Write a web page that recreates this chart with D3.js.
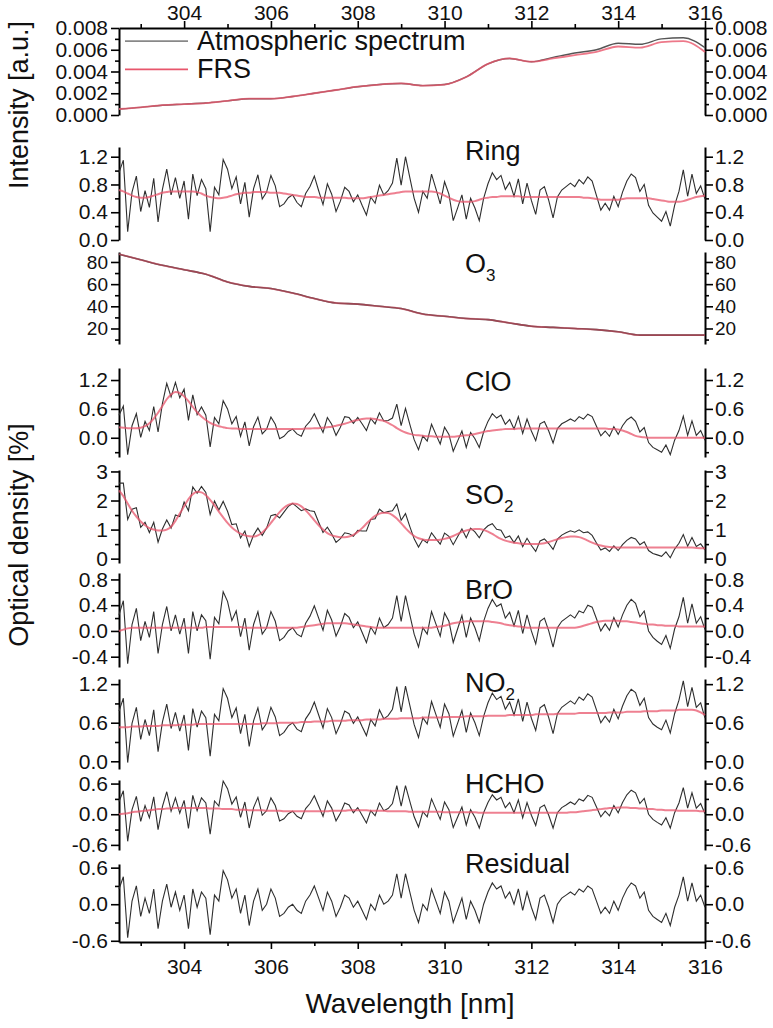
<!DOCTYPE html>
<html>
<head>
<meta charset="utf-8">
<script src="https://cdn.jsdelivr.net/npm/d3@7"></script>
<style>
  body { margin: 0; background: #fff; }
  svg text { font-family: "Liberation Sans", Arial, sans-serif; fill: #111; }
</style>
</head>
<body>
<svg id="chart" width="773" height="1028"></svg>
<script>
// wavelength axis
const xTicks = [304, 306, 308, 310, 312, 314, 316];
const xMinor = [303, 305, 307, 309, 311, 313, 315];
// 0.5 nm knots for the smooth curves
const knotNm = [302.5, 303, 303.5, 304, 304.5, 305, 305.5, 306, 306.5, 307, 307.5, 308, 308.5, 309,
                309.5, 310, 310.5, 311, 311.5, 312, 312.5, 313, 313.5, 314, 314.5, 315, 315.5, 316];
// detector grid, 0.1 nm
const gridNm = d3.range(136).map(i => Math.round((302.5 + i * 0.1) * 10) / 10);

// intensity panel
const atmSpectrum = [0.00055, 0.0007, 0.0009, 0.001, 0.0011, 0.0013, 0.0015, 0.0015, 0.0017, 0.002, 0.0023, 0.0026, 0.0028, 0.0029,
                     0.0027, 0.0028, 0.0035, 0.0047, 0.0052, 0.0049, 0.0053, 0.0057, 0.006, 0.0066, 0.0065, 0.007, 0.0071, 0.0062];
const frsSpectrum = [0.00055, 0.0007, 0.0009, 0.001, 0.0011, 0.0013, 0.0015, 0.0015, 0.0017, 0.002, 0.0023, 0.0026, 0.0028, 0.0029,
                     0.0027, 0.0028, 0.0035, 0.0047, 0.0052, 0.0049, 0.0052, 0.0055, 0.0058, 0.0063, 0.0062, 0.0067, 0.0068, 0.0058];
const o3Fit = [87, 82, 77, 73, 69, 62, 58, 56, 52, 47, 43, 42, 40, 38, 33, 31, 29, 28, 25, 22, 21, 20, 19, 17, 14, 14, 14, 14];

// fit residual (optical density %), on gridNm
const residual = [
  0.25, 0.45, -0.55, 0.05, 0.30, -0.20, 0.10, -0.15, 0.25, -0.40,
  0.05, 0.33, -0.05, 0.20, -0.10, 0.15, -0.40, 0.25, -0.05, 0.20,
  0.10, -0.50, 0.15, 0.05, 0.55, 0.40, 0.10, 0.25, -0.15, 0.15,
  -0.35, 0.05, 0.25, -0.10, 0.00, 0.25, 0.10, -0.20, -0.15, -0.05,
  0.00, -0.10, -0.15, 0.05, 0.15, 0.30, 0.10, -0.10, 0.20, 0.05,
  -0.20, -0.05, 0.15, 0.10, -0.05, 0.05, -0.10, -0.25, 0.00, -0.10,
  0.15, 0.00, 0.05, 0.15, 0.50, 0.10, 0.50, 0.20, -0.10, -0.30,
  0.00, -0.10, 0.25, 0.05, -0.15, 0.20, 0.05, -0.30, -0.10, 0.10,
  -0.25, 0.05, -0.10, -0.30, 0.00, 0.20, 0.35, 0.25, 0.30, 0.10,
  0.20, 0.00, 0.25, -0.10, 0.20, -0.05, -0.25, 0.10, 0.15, -0.05,
  -0.30, 0.00, 0.10, 0.15, 0.20, 0.15, 0.25, 0.20, 0.30, 0.25,
  0.05, -0.15, -0.05, -0.15, 0.05, -0.10, 0.10, 0.25, 0.35, 0.30,
  0.10, 0.20, -0.10, -0.20, -0.25, -0.30, -0.15, -0.35, -0.05, 0.15,
  0.45, 0.05, 0.35, 0.05, 0.15, -0.05];

// fitted cross sections, on gridNm
const ringFit = [
  0.72, 0.70, 0.67, 0.64, 0.62, 0.61, 0.61, 0.62, 0.64, 0.66,
  0.68, 0.69, 0.70, 0.70, 0.70, 0.70, 0.70, 0.70, 0.69, 0.67,
  0.64, 0.62, 0.61, 0.60, 0.61, 0.62, 0.64, 0.66, 0.67, 0.68,
  0.68, 0.69, 0.69, 0.69, 0.69, 0.68, 0.68, 0.68, 0.67, 0.66,
  0.65, 0.64, 0.63, 0.62, 0.62, 0.62, 0.61, 0.61, 0.61, 0.61,
  0.61, 0.61, 0.61, 0.60, 0.60, 0.60, 0.60, 0.61, 0.62, 0.63,
  0.64, 0.65, 0.66, 0.67, 0.68, 0.69, 0.70, 0.70, 0.70, 0.70,
  0.70, 0.70, 0.70, 0.69, 0.67, 0.64, 0.61, 0.58, 0.56, 0.55,
  0.55, 0.55, 0.56, 0.58, 0.60, 0.61, 0.62, 0.62, 0.63, 0.63,
  0.63, 0.63, 0.63, 0.62, 0.62, 0.62, 0.62, 0.62, 0.62, 0.62,
  0.62, 0.62, 0.62, 0.62, 0.62, 0.62, 0.62, 0.61, 0.61, 0.60,
  0.59, 0.58, 0.58, 0.58, 0.58, 0.58, 0.59, 0.60, 0.60, 0.60,
  0.60, 0.60, 0.60, 0.59, 0.58, 0.57, 0.56, 0.55, 0.55, 0.55,
  0.56, 0.58, 0.60, 0.62, 0.63, 0.64];
const cloFit = [
  0.22, 0.21, 0.20, 0.20, 0.20, 0.21, 0.24, 0.30, 0.40, 0.52,
  0.66, 0.80, 0.90, 0.95, 0.93, 0.86, 0.76, 0.64, 0.53, 0.44,
  0.37, 0.31, 0.27, 0.24, 0.22, 0.20, 0.19, 0.19, 0.18, 0.18,
  0.18, 0.18, 0.18, 0.18, 0.18, 0.18, 0.18, 0.18, 0.18, 0.18,
  0.18, 0.18, 0.18, 0.19, 0.19, 0.20, 0.20, 0.21, 0.22, 0.23,
  0.25, 0.27, 0.29, 0.32, 0.35, 0.37, 0.39, 0.40, 0.40, 0.39,
  0.37, 0.35, 0.31, 0.26, 0.20, 0.15, 0.11, 0.08, 0.06, 0.05,
  0.04, 0.03, 0.03, 0.02, 0.02, 0.02, 0.02, 0.02, 0.03, 0.04,
  0.05, 0.06, 0.08, 0.10, 0.12, 0.14, 0.15, 0.16, 0.17, 0.18,
  0.18, 0.18, 0.19, 0.19, 0.19, 0.19, 0.19, 0.19, 0.19, 0.19,
  0.19, 0.19, 0.19, 0.19, 0.19, 0.19, 0.19, 0.19, 0.19, 0.19,
  0.19, 0.19, 0.19, 0.18, 0.18, 0.17, 0.15, 0.12, 0.08, 0.04,
  0.02, 0.01, 0.00, 0.00, 0.00, 0.00, 0.00, 0.00, 0.00, 0.00,
  0.00, 0.00, 0.00, 0.00, 0.00, 0.00];
const so2Fit = [
  2.35, 2.15, 1.90, 1.65, 1.45, 1.28, 1.15, 1.05, 1.00, 0.97,
  0.97, 1.00, 1.10, 1.30, 1.55, 1.80, 2.05, 2.22, 2.30, 2.28,
  2.18, 2.02, 1.83, 1.62, 1.42, 1.23, 1.07, 0.95, 0.86, 0.80,
  0.77, 0.76, 0.80, 0.90, 1.05, 1.23, 1.42, 1.60, 1.75, 1.85,
  1.90, 1.88, 1.80, 1.66, 1.50, 1.32, 1.15, 1.00, 0.88, 0.80,
  0.76, 0.74, 0.74, 0.76, 0.82, 0.92, 1.05, 1.20, 1.35, 1.47,
  1.55, 1.58, 1.57, 1.50, 1.38, 1.22, 1.05, 0.90, 0.78, 0.70,
  0.66, 0.64, 0.64, 0.64, 0.65, 0.68, 0.72, 0.78, 0.85, 0.92,
  0.97, 1.00, 1.02, 1.02, 0.99, 0.93, 0.85, 0.76, 0.68, 0.62,
  0.58, 0.55, 0.53, 0.51, 0.50, 0.50, 0.50, 0.51, 0.53, 0.57,
  0.62, 0.67, 0.71, 0.74, 0.76, 0.76, 0.74, 0.69, 0.62, 0.55,
  0.49, 0.45, 0.42, 0.40, 0.39, 0.38, 0.38, 0.38, 0.38, 0.38,
  0.38, 0.38, 0.38, 0.38, 0.38, 0.38, 0.38, 0.38, 0.38, 0.38,
  0.38, 0.38, 0.38, 0.37, 0.36, 0.35];
const broFit = [
  0.00, 0.02, 0.04, 0.05, 0.05, 0.05, 0.05, 0.05, 0.05, 0.05,
  0.05, 0.05, 0.05, 0.05, 0.05, 0.05, 0.05, 0.05, 0.05, 0.05,
  0.06, 0.06, 0.06, 0.06, 0.06, 0.06, 0.06, 0.06, 0.06, 0.05,
  0.05, 0.05, 0.05, 0.05, 0.05, 0.05, 0.05, 0.05, 0.05, 0.05,
  0.05, 0.05, 0.06, 0.07, 0.08, 0.09, 0.10, 0.11, 0.12, 0.12,
  0.12, 0.12, 0.12, 0.11, 0.10, 0.09, 0.08, 0.07, 0.06, 0.05,
  0.05, 0.05, 0.05, 0.05, 0.05, 0.05, 0.05, 0.05, 0.05, 0.05,
  0.05, 0.05, 0.05, 0.06, 0.07, 0.08, 0.10, 0.12, 0.13, 0.14,
  0.15, 0.15, 0.15, 0.15, 0.15, 0.15, 0.14, 0.13, 0.12, 0.10,
  0.09, 0.08, 0.07, 0.06, 0.05, 0.05, 0.05, 0.05, 0.05, 0.05,
  0.05, 0.05, 0.05, 0.05, 0.05, 0.05, 0.06, 0.08, 0.10, 0.12,
  0.14, 0.15, 0.16, 0.16, 0.16, 0.16, 0.15, 0.15, 0.14, 0.13,
  0.12, 0.11, 0.10, 0.10, 0.09, 0.09, 0.08, 0.08, 0.08, 0.07,
  0.07, 0.07, 0.07, 0.07, 0.07, 0.07];
const no2Fit = [
  0.53, 0.53, 0.53, 0.54, 0.54, 0.54, 0.55, 0.55, 0.55, 0.55,
  0.56, 0.56, 0.56, 0.56, 0.57, 0.57, 0.57, 0.57, 0.58, 0.58,
  0.58, 0.58, 0.58, 0.58, 0.58, 0.58, 0.58, 0.58, 0.58, 0.58,
  0.58, 0.58, 0.58, 0.59, 0.59, 0.59, 0.59, 0.60, 0.60, 0.60,
  0.60, 0.60, 0.61, 0.61, 0.61, 0.62, 0.62, 0.62, 0.62, 0.63,
  0.63, 0.63, 0.63, 0.64, 0.64, 0.64, 0.64, 0.65, 0.65, 0.65,
  0.65, 0.66, 0.66, 0.66, 0.66, 0.67, 0.67, 0.67, 0.67, 0.67,
  0.68, 0.68, 0.68, 0.68, 0.68, 0.69, 0.69, 0.69, 0.69, 0.69,
  0.70, 0.70, 0.70, 0.70, 0.70, 0.71, 0.71, 0.71, 0.71, 0.71,
  0.72, 0.72, 0.72, 0.72, 0.72, 0.72, 0.73, 0.73, 0.73, 0.73,
  0.73, 0.74, 0.74, 0.74, 0.74, 0.74, 0.75, 0.75, 0.75, 0.75,
  0.75, 0.75, 0.75, 0.76, 0.76, 0.76, 0.76, 0.77, 0.77, 0.77,
  0.77, 0.78, 0.78, 0.78, 0.78, 0.79, 0.79, 0.79, 0.79, 0.80,
  0.80, 0.80, 0.80, 0.79, 0.76, 0.72];
const hchoFit = [
  0.00, 0.01, 0.02, 0.04, 0.05, 0.06, 0.07, 0.08, 0.09, 0.10,
  0.10, 0.11, 0.11, 0.12, 0.12, 0.12, 0.12, 0.12, 0.12, 0.12,
  0.12, 0.11, 0.11, 0.11, 0.10, 0.10, 0.10, 0.09, 0.09, 0.09,
  0.08, 0.08, 0.08, 0.08, 0.07, 0.07, 0.07, 0.07, 0.06, 0.06,
  0.06, 0.06, 0.06, 0.06, 0.06, 0.06, 0.06, 0.06, 0.06, 0.07,
  0.07, 0.07, 0.07, 0.08, 0.08, 0.08, 0.08, 0.08, 0.07, 0.07,
  0.07, 0.07, 0.06, 0.06, 0.06, 0.06, 0.06, 0.05, 0.05, 0.05,
  0.05, 0.05, 0.05, 0.05, 0.05, 0.04, 0.04, 0.04, 0.04, 0.04,
  0.04, 0.04, 0.04, 0.03, 0.03, 0.03, 0.03, 0.03, 0.03, 0.03,
  0.03, 0.03, 0.03, 0.03, 0.03, 0.03, 0.03, 0.03, 0.03, 0.03,
  0.03, 0.03, 0.03, 0.03, 0.04, 0.04, 0.05, 0.06, 0.07, 0.08,
  0.09, 0.10, 0.11, 0.12, 0.12, 0.13, 0.13, 0.13, 0.12, 0.12,
  0.11, 0.11, 0.10, 0.10, 0.09, 0.09, 0.08, 0.08, 0.08, 0.07,
  0.07, 0.07, 0.07, 0.07, 0.06, 0.06];

// axis tick values per panel
const intensityTicks = [0, 0.002, 0.004, 0.006, 0.008], intensityMinor = [0.001, 0.003, 0.005, 0.007];
const ringTicks = [0, 0.4, 0.8, 1.2], ringMinor = [0.2, 0.6, 1.0];
const o3Ticks = [20, 40, 60, 80], o3Minor = [10, 30, 50, 70];
const cloTicks = [0, 0.6, 1.2], cloMinor = [-0.3, 0.3, 0.9];
const so2Ticks = [0, 1, 2, 3], so2Minor = [0.5, 1.5, 2.5];
const broTicks = [-0.4, 0, 0.4, 0.8], broMinor = [-0.2, 0.2, 0.6];
const no2Ticks = [0, 0.6, 1.2], no2Minor = [0.3, 0.9];
const hchoTicks = [-0.6, 0, 0.6], hchoMinor = [-0.3, 0.3];
const residualTicks = [-0.6, 0, 0.6], residualMinor = [-0.3, 0.3];

const legendLabels = ["Atmospheric spectrum", "FRS"];

// ---- layout ----
const xLeft = 119, xRight = 705;
const plotTop = 28, plotBottom = 942;
const panelBox = [[28, 115], [147, 240], [252, 344], [368, 457], [470, 563], [573, 667], [679, 769], [780, 850], [864, 942]];
const black = "#2e2e2e", red = "#e8566c";
const tickFont = 21;

const panels = [
  { domain: [0, 0.008], ticks: intensityTicks, minor: intensityMinor, fmt: ".3f" },
  { name: "Ring", domain: [0, 1.34], ticks: ringTicks, minor: ringMinor, fmt: ".1f", fit: ringFit, labelAt: 1.28 },
  { name: "O", sub: "3", domain: [6, 89], ticks: o3Ticks, minor: o3Minor, fmt: "d", labelAt: 78, font: 19 },
  { name: "ClO", domain: [-0.4, 1.45], ticks: cloTicks, minor: cloMinor, fmt: ".1f", fit: cloFit, labelAt: 1.15 },
  { name: "SO", sub: "2", domain: [-0.15, 3.05], ticks: so2Ticks, minor: so2Minor, fmt: "d", fit: so2Fit, labelAt: 2.2 },
  { name: "BrO", domain: [-0.56, 0.9], ticks: broTicks, minor: broMinor, fmt: ".1f", fit: broFit, labelAt: 0.64 },
  { name: "NO", sub: "2", domain: [-0.12, 1.28], ticks: no2Ticks, minor: no2Minor, fmt: ".1f", fit: no2Fit, labelAt: 1.22 },
  { name: "HCHO", domain: [-0.7, 0.67], ticks: hchoTicks, minor: hchoMinor, fmt: ".1f", fit: hchoFit, labelAt: 0.6 },
  { name: "Residual", domain: [-0.62, 0.66], ticks: residualTicks, minor: residualMinor, fmt: ".1f", labelAt: 0.66 }
];

const svg = d3.select("#chart");
const x = d3.scaleLinear().domain([302.5, 316]).range([xLeft, xRight]);

function styleAxis(g, size) {
  g.attr("font-family", null).attr("font-size", size);
  g.select(".domain").attr("stroke", "#000").attr("stroke-width", 2);
  g.selectAll(".tick line").attr("stroke", "#000").attr("stroke-width", 1.6);
  g.selectAll("text").attr("fill", "#111");
}

function fmtNum(f) {
  const base = d3.format(f);
  return d => base(d).replace("\u2212", "-");
}

panels.forEach((p, i) => {
  const [top, bottom] = panelBox[i];
  const y = d3.scaleLinear().domain(p.domain).range([bottom, top]);
  const g = svg.append("g");
  const fs = p.font || tickFont;

  // left and right axes
  const gl = g.append("g").attr("transform", `translate(${xLeft},0)`)
    .call(d3.axisLeft(y).tickValues(p.ticks).tickFormat(fmtNum(p.fmt)).tickSize(8).tickSizeOuter(0).tickPadding(3));
  styleAxis(gl, fs);
  const gr = g.append("g").attr("transform", `translate(${xRight},0)`)
    .call(d3.axisRight(y).tickValues(p.ticks).tickFormat(fmtNum(p.fmt)).tickSize(8).tickSizeOuter(0).tickPadding(2));
  styleAxis(gr, fs);
  [[xLeft, d3.axisLeft], [xRight, d3.axisRight]].forEach(([xp, ax]) => {
    const gm = g.append("g").attr("transform", `translate(${xp},0)`)
      .call(ax(y).tickValues(p.minor).tickFormat("").tickSize(4));
    gm.select(".domain").remove();
    gm.selectAll(".tick line").attr("stroke", "#000").attr("stroke-width", 1.6);
  });

  const smooth = d3.line().x(d => x(d[0])).y(d => y(d[1])).curve(d3.curveMonotoneX);
  const jagged = d3.line().x(d => x(d[0])).y(d => y(d[1]));

  if (i === 0) {
    g.append("path").attr("d", smooth(knotNm.map((n, k) => [n, atmSpectrum[k]])))
      .attr("fill", "none").attr("stroke", "#555").attr("stroke-width", 1.4);
    g.append("path").attr("d", smooth(knotNm.map((n, k) => [n, frsSpectrum[k]])))
      .attr("fill", "none").attr("stroke", red).attr("stroke-width", 1.8).attr("opacity", 0.8);
    // legend
    const legendVals = [0.0068, 0.0042];
    const legendColors = ["#888", red];
    legendLabels.forEach((lab, k) => {
      const ly = y(legendVals[k]);
      g.append("line").attr("x1", 125).attr("x2", 188).attr("y1", ly).attr("y2", ly)
        .attr("stroke", legendColors[k]).attr("stroke-width", 1.8);
      g.append("text").attr("x", 197).attr("y", ly + 9).attr("font-size", 27).text(lab);
    });
  } else if (p.name === "O") {
    g.append("path").attr("d", smooth(knotNm.map((n, k) => [n, o3Fit[k]])))
      .attr("fill", "none").attr("stroke", black).attr("stroke-width", 1.6);
    g.append("path").attr("d", smooth(knotNm.map((n, k) => [n, o3Fit[k]])))
      .attr("fill", "none").attr("stroke", red).attr("stroke-width", 1.8).attr("opacity", 0.6);
  } else if (p.fit) {
    g.append("path").attr("d", jagged(gridNm.map((n, k) => [n, p.fit[k] + residual[k]])))
      .attr("fill", "none").attr("stroke", black).attr("stroke-width", 1.1);
    g.append("path").attr("d", smooth(gridNm.map((n, k) => [n, p.fit[k]])))
      .attr("fill", "none").attr("stroke", red).attr("stroke-width", 2).attr("opacity", 0.75);
  } else {
    g.append("path").attr("d", jagged(gridNm.map((n, k) => [n, residual[k]])))
      .attr("fill", "none").attr("stroke", black).attr("stroke-width", 1.1);
  }

  if (p.name) {
    const t = g.append("text").attr("x", 465).attr("y", y(p.labelAt) + 9)
      .attr("font-size", 27).text(p.name);
    if (p.sub) t.append("tspan").attr("font-size", 17).attr("dy", 8).text(p.sub);
  }
});

// wavelength axes, top and bottom
const gt = svg.append("g").attr("transform", `translate(0,${plotTop})`)
  .call(d3.axisTop(x).tickValues(xTicks).tickFormat(d3.format("d")).tickSize(7).tickSizeOuter(0).tickPadding(1));
styleAxis(gt, tickFont);
const gb = svg.append("g").attr("transform", `translate(0,${plotBottom})`)
  .call(d3.axisBottom(x).tickValues(xTicks).tickFormat(d3.format("d")).tickSize(7).tickSizeOuter(0).tickPadding(10));
styleAxis(gb, tickFont);
[[plotTop, d3.axisTop], [plotBottom, d3.axisBottom]].forEach(([yp, ax]) => {
  const gm = svg.append("g").attr("transform", `translate(0,${yp})`)
    .call(ax(x).tickValues(xMinor).tickFormat("").tickSize(4));
  gm.select(".domain").remove();
  gm.selectAll(".tick line").attr("stroke", "#000").attr("stroke-width", 1.6);
});

// axis titles
svg.append("text").attr("x", 410).attr("y", 1013)
  .attr("text-anchor", "middle").attr("font-size", 28).text("Wavelength [nm]");
svg.append("text").attr("transform", "translate(28,105) rotate(-90)")
  .attr("text-anchor", "middle").attr("font-size", 27).text("Intensity [a.u.]");
svg.append("text").attr("transform", "translate(28,535) rotate(-90)")
  .attr("text-anchor", "middle").attr("font-size", 27).text("Optical density [%]");
</script>
</body>
</html>
